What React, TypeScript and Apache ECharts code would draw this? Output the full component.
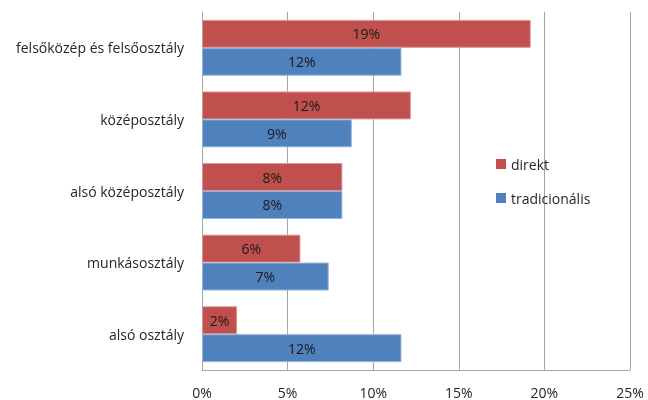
import React, { useEffect, useRef } from "react";
import * as echarts from "echarts";

const categories = [
  "felsőközép és felsőosztály",
  "középosztály",
  "alsó középosztály",
  "munkásosztály",
  "alsó osztály",
];
const direkt = [19.2, 12.2, 8.2, 5.75, 2.05];
const tradicionalis = [11.65, 8.75, 8.2, 7.4, 11.65];
const xTicks = [0, 5, 10, 15, 20, 25];

const FONT = "Open Sans";

export default function App() {
  const ref = useRef<HTMLDivElement>(null);
  useEffect(() => {
    if (!ref.current) return;
    const chart = echarts.init(ref.current, null, { renderer: "svg" });
    const label = {
      show: true,
      position: "inside",
      color: "#1a1a1a",
      fontFamily: FONT,
      fontSize: 14,
      formatter: (p: any) => Math.round(p.value) + "%",
    };
    chart.setOption({
      animation: false,
      textStyle: { fontFamily: FONT },
      grid: { left: 202, right: 18, top: 12, bottom: 30, containLabel: false },
      legend: {
        orient: "vertical",
        left: 491,
        top: 152,
        itemWidth: 10,
        itemHeight: 10,
        itemGap: 20,
        icon: "rect",
        itemStyle: { borderWidth: 0 },
        textStyle: { fontFamily: FONT, fontSize: 14, color: "#262626" },
        data: ["direkt", "tradicionális"],
      },
      xAxis: {
        type: "value",
        min: xTicks[0],
        max: xTicks[xTicks.length - 1],
        interval: 5,
        axisLine: { show: true, lineStyle: { color: "#a6a6a6" } },
        axisTick: { show: false },
        splitLine: { show: true, lineStyle: { color: "#a6a6a6" } },
        axisLabel: {
          formatter: (v: number) => v + "%",
          fontFamily: FONT,
          fontSize: 14,
          color: "#262626",
          margin: 15,
        },
      },
      yAxis: {
        type: "category",
        inverse: true,
        data: categories,
        axisLine: { show: true, lineStyle: { color: "#a6a6a6" } },
        axisTick: { show: false },
        axisLabel: { fontFamily: FONT, fontSize: 14, color: "#262626", margin: 18 },
      },
      series: [
        {
          name: "direkt",
          type: "bar",
          data: direkt,
          barGap: "0%",
          barCategoryGap: "22%",
          itemStyle: { color: "#C0504D", borderColor: "#d99694", borderWidth: 1 },
          label,
        },
        {
          name: "tradicionális",
          type: "bar",
          data: tradicionalis,
          barGap: "0%",
          barCategoryGap: "22%",
          itemStyle: { color: "#4F81BD", borderColor: "#95b3d7", borderWidth: 1 },
          label,
        },
      ],
    });
    return () => chart.dispose();
  }, []);
  return (
    <div style={{ position: "fixed", left: 0, top: 0 }}>
      <div ref={ref} style={{ width: 648, height: 400 }} />
    </div>
  );
}
